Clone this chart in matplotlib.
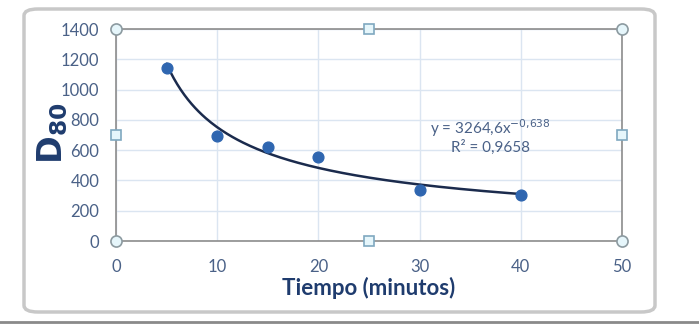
import numpy as np
import matplotlib.pyplot as plt
from matplotlib.patches import FancyBboxPatch

plt.rcParams['font.family'] = ['Lato', 'DejaVu Sans']

# datos
tiempo = [5, 10, 15, 20, 30, 40]
d80 = [1143, 693, 621, 555, 337, 304]
coef_a = 3264.6
coef_b = -0.638
r2_text = '0,9658'

fig = plt.figure(figsize=(6.99, 3.31), dpi=100)
fig.patch.set_facecolor('white')

# marco del grafico
frame = FancyBboxPatch((24 / 699, 1 - 312 / 331), 631 / 699, 303 / 331,
                       boxstyle='round,pad=0,rounding_size=0.02',
                       transform=fig.transFigure, facecolor='white',
                       edgecolor='#c8c8c8', linewidth=2.5, zorder=-10)
fig.patches.append(frame)
fig.add_artist(plt.Line2D([0, 1], [1 - 322 / 331, 1 - 322 / 331],
                          transform=fig.transFigure, color='#8a8a8a', lw=2))

ax = fig.add_axes([116 / 699, 1 - 241 / 331, 506 / 699, 212 / 331])
ax.set_zorder(5)
ax.set_facecolor('white')

ax.set_xlim(0, 50)
ax.set_ylim(0, 1400)
ax.set_xticks(range(0, 51, 10))
ax.set_yticks(range(0, 1401, 200))
ax.grid(True, color='#dbe5f1', linewidth=1)
ax.set_axisbelow(True)
ax.tick_params(length=0, labelsize=12, colors='#4a6187')
ax.tick_params(axis='x', pad=13)
ax.tick_params(axis='y', pad=12)

for s in ax.spines.values():
    s.set_color('#8c8c8c')
    s.set_linewidth(1.2)

# linea de tendencia potencial
xs = np.linspace(min(tiempo), max(tiempo), 200)
ax.plot(xs, coef_a * xs ** coef_b, color='#1b2b4d', lw=1.8, zorder=3)
ax.scatter(tiempo, d80, s=60, color='#2f66b0', zorder=4)

ax.text(37, 746, 'y = 3264,6x$^{-0{,}638}$', ha='center', va='center',
        fontsize=11, color='#4a6187')
ax.text(37, 621, 'R² = ' + r2_text, ha='center', va='center',
        fontsize=11, color='#4a6187')

ax.set_xlabel('Tiempo (minutos)', fontsize=16, fontweight='bold',
              color='#1f3c6e', labelpad=1)
fig.text(53 / 699, 1 - 133 / 331, r'$\mathbf{D}_{\mathbf{80}}$', rotation=90,
         ha='center', va='center', fontsize=24, color='#1f3c6e', zorder=6)

# marcas de seleccion del area de trazado
for hx, hy in [(0, 0), (0, 1400), (50, 0), (50, 1400)]:
    ax.plot(hx, hy, 'o', ms=8, mfc='#e6f6fb', mec='#8c9aa0', mew=1.2,
            clip_on=False, zorder=5)
for hx, hy in [(25, 0), (25, 1400), (0, 700), (50, 700)]:
    ax.plot(hx, hy, 's', ms=7, mfc='#e6f6fb', mec='#7fa8c0', mew=1.2,
            clip_on=False, zorder=5)

fig.savefig('out.png', dpi=100)
